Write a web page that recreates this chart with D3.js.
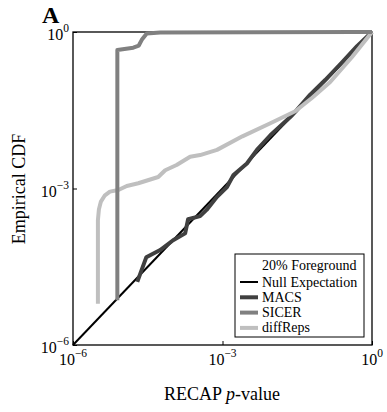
<!DOCTYPE html>
<html><head><meta charset="utf-8">
<script src="https://cdn.jsdelivr.net/npm/d3@7/dist/d3.min.js"></script>
<style>body{margin:0;background:#fff}svg{display:block}</style>
</head><body><svg id="c" width="387" height="412"></svg>
<script>
// Data (p-values)
const nullX = [1e-6, 1];
const nullY = [1e-6, 1];
const macsX = [1.95e-5,2.95e-5,5.62e-5,1.02e-4,1.78e-4,2.04e-4,3.55e-4,4.79e-4,7.76e-4,1.23e-3,1.66e-3,3.09e-3,4.90e-3,9.12e-3,2.29e-2,2.88e-2,5.75e-2,0.115,0.240,0.501,1];
const macsY = [1.62e-5,4.79e-5,6.61e-5,1.02e-4,1.38e-4,2.57e-4,2.95e-4,3.89e-4,6.92e-4,1.07e-3,1.82e-3,3.02e-3,5.50e-3,1.05e-2,2.34e-2,2.95e-2,6.31e-2,0.120,0.251,0.537,1];
const sicerX = [7.76e-6,7.76e-6,1.62e-5,2.09e-5,2.40e-5,3.02e-5,5.62e-5,0.447,1];
const sicerY = [7.24e-6,0.452,0.501,0.550,0.708,0.933,0.977,1,1];
const diffX = [3.16e-6,3.16e-6,3.31e-6,3.63e-6,4.37e-6,5.50e-6,8.13e-6,1.20e-5,2.04e-5,5.13e-5,7.08e-5,1.20e-4,2.24e-4,3.55e-4,7.76e-4,2.51e-3,9.12e-3,2.88e-2,6.31e-2,0.145,0.398,1];
const diffY = [6.17e-6,2.45e-4,3.98e-4,5.62e-4,7.41e-4,8.71e-4,9.33e-4,1.12e-3,1.26e-3,1.66e-3,2.24e-3,2.82e-3,4.07e-3,4.37e-3,5.50e-3,1.00e-2,1.78e-2,3.02e-2,5.50e-2,0.110,0.331,1];
const tickVals = [1e-6, 1e-3, 1];
const tickExps = ["\u22126", "\u22123", "0"];
const seriesNames = ["Null Expectation", "MACS", "SICER", "diffReps"];
const legendTitle = "20% Foreground";

const FONT = "'Liberation Serif', 'DejaVu Serif', serif";
const svg = d3.select("#c");
const L = 73, R = 372, T = 32, B = 345;
const x = d3.scaleLog().domain([1e-6, 1]).range([L, R]);
const y = d3.scaleLog().domain([1e-6, 1]).range([B, T]);

const series = [
  {name: seriesNames[0], xs: nullX, ys: nullY, color: "#000", w: 2},
  {name: seriesNames[1], xs: macsX, ys: macsY, color: "#404040", w: 4},
  {name: seriesNames[2], xs: sicerX, ys: sicerY, color: "#808080", w: 4},
  {name: seriesNames[3], xs: diffX, ys: diffY, color: "#bfbfbf", w: 4}
];

// frame
svg.append("rect").attr("x", L).attr("y", T).attr("width", R - L).attr("height", B - T)
  .attr("fill", "none").attr("stroke", "#000").attr("stroke-width", 1.3);

const line = d3.line().x(d => x(d[0])).y(d => y(d[1]));
const drawOrder = [0, 1, 3, 2];
drawOrder.forEach(i => {
  const s = series[i];
  svg.append("path").datum(s.xs.map((v, k) => [v, s.ys[k]]))
    .attr("d", line).attr("fill", "none").attr("stroke", s.color)
    .attr("stroke-width", s.w).attr("stroke-linejoin", "round").attr("stroke-linecap", "butt");
});

// axes with inner ticks
const xAxis = d3.axisBottom(x).tickValues(tickVals).tickSize(-4).tickFormat("");
const yAxis = d3.axisLeft(y).tickValues(tickVals).tickSize(-4).tickFormat("");
const gx = svg.append("g").attr("transform", `translate(0,${B})`).call(xAxis);
const gy = svg.append("g").attr("transform", `translate(${L},0)`).call(yAxis);
[gx, gy].forEach(g => { g.select(".domain").remove(); g.selectAll("line").attr("stroke", "#000").attr("stroke-width", 1); });

function powLabel(g, xp, yp, exp, anchor) {
  const t = g.append("text").attr("x", xp).attr("y", yp).attr("font-size", 16)
    .attr("font-family", FONT).attr("text-anchor", anchor);
  t.append("tspan").text("10");
  t.append("tspan").attr("dy", -8).attr("font-size", 11.5).text(exp);
}
tickVals.forEach((v, i) => {
  powLabel(svg, x(v), B + 20, tickExps[i], "middle");
  powLabel(svg, L - 4, y(v) + 8, tickExps[i], "end");
});

svg.append("text").attr("x", 222).attr("y", 400).attr("text-anchor", "middle").attr("font-size", 18)
  .attr("font-family", FONT)
  .call(t => { t.append("tspan").text("RECAP "); t.append("tspan").attr("font-style", "italic").text("p"); t.append("tspan").text("-value"); });
svg.append("text").attr("transform", "translate(25,189) rotate(-90)").attr("text-anchor", "middle")
  .attr("font-family", FONT).attr("font-size", 18).text("Empirical CDF");
svg.append("text").attr("x", 42).attr("y", 23).attr("font-size", 24).attr("font-weight", "bold")
  .attr("font-family", FONT).text("A");

// legend
const lg = svg.append("g");
lg.append("rect").attr("x", 235).attr("y", 254).attr("width", 129).attr("height", 83)
  .attr("fill", "#fff").attr("stroke", "#000").attr("stroke-width", 1);
lg.append("text").attr("x", 262).attr("y", 269.5).attr("font-size", 14).attr("font-family", FONT).text(legendTitle);
series.forEach((s, i) => {
  const yy = 282 + i * 15.3;
  lg.append("line").attr("x1", 240).attr("x2", 258).attr("y1", yy).attr("y2", yy)
    .attr("stroke", s.color).attr("stroke-width", s.w);
  lg.append("text").attr("x", 262).attr("y", yy + 4.5).attr("font-size", 14).attr("font-family", FONT).text(s.name);
});
</script></body></html>
